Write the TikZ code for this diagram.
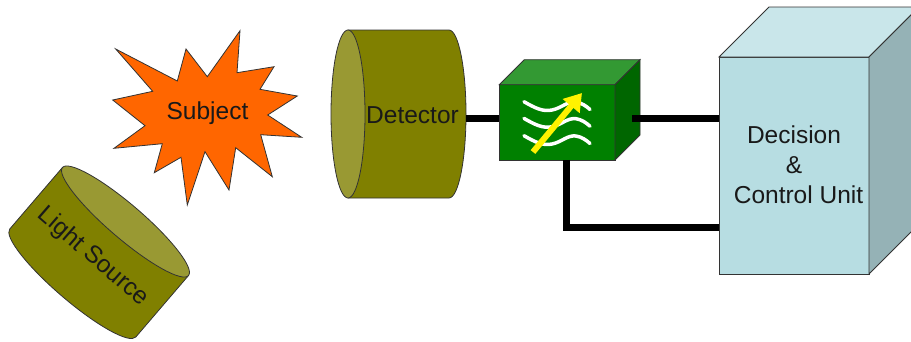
\documentclass[tikz,border=0pt]{standalone}
\usepackage{fontspec}
\setmainfont{Liberation Sans}
\usetikzlibrary{calc, positioning, arrows.meta}

\definecolor{tubebody}{HTML}{808000}
\definecolor{tubecap}{HTML}{999933}
\definecolor{burst}{HTML}{FF6600}
\definecolor{filterfront}{HTML}{008000}
\definecolor{filtertop}{HTML}{339933}
\definecolor{filterside}{HTML}{006600}
\definecolor{unitfront}{HTML}{B7DDE2}
\definecolor{unittop}{HTML}{C9E6EA}
\definecolor{unitside}{HTML}{95B2B6}

\tikzset{
	outline/.style={draw=black!80, line width=0.8pt},
	label text/.style={font=\fontsize{24.5}{30}\selectfont, text=black!90, inner sep=0pt},
	link/.style={line width=7pt, draw=black},
	wave/.style={draw=white, line width=3.5pt, line cap=round},
}

\begin{document}
\begin{tikzpicture}[x=1pt, y=-1pt]
	\clip (0,0) rectangle (911,341);

	% free ends of the links
	\coordinate (detector out) at (466,118);
	\coordinate (filter out) at (632,118);
	\coordinate (filter down) at (566,150);
	\coordinate (bend) at (566,227);

	% light source
	\begin{scope}[shift={(125.5,221.5)}, rotate=229.4]
		\path[outline, fill=tubebody] (0,-83) -- (81,-83)
			.. controls (90.4,-83) and (98,-46) .. (98,0)
			.. controls (98,46) and (90.4,83) .. (81,83)
			-- (0,83) -- cycle;
		\path[outline, fill=tubecap] (0,0) ellipse [x radius=17, y radius=83];
	\end{scope}
	\node[label text, rotate=-41] (source) at (93,257) {Light Source};

	% subject
	\path[outline, fill=burst] (115.7,49) -- (177.3,81) -- (186,49) -- (207.3,76.7)
		-- (240,30.7) -- (237,72.7) -- (274,66.7) -- (260,89.3) -- (297.3,96)
		-- (267.7,115) -- (301.7,137.3) -- (260.7,134.7) -- (272.3,176.7)
		-- (235.7,147.7) -- (229,190) -- (205,151.7) -- (187.3,205) -- (181,157.3)
		-- (154.3,172.7) -- (162.3,143.7) -- (114,148.3) -- (145,125.7)
		-- (112.7,100) -- (152.7,91.3) -- cycle;
	\node[label text] (subject) at (207.5,113) {Subject};

	% detector
	\begin{scope}[shift={(348,114)}]
		\path[outline, fill=tubebody] (0,-84) -- (101,-84)
			.. controls (110.4,-84) and (118,-46) .. (118,0)
			.. controls (118,46) and (110.4,84) .. (101,84)
			-- (0,84) -- cycle;
		\path[outline, fill=tubecap] (0,0) ellipse [x radius=17, y radius=84];
	\end{scope}
	\node[label text] (detector) at (412.5,115) {Detector};

	% filter
	\node[outline, fill=filterfront, minimum width=115.7pt, minimum height=75.3pt, inner sep=0pt, outer sep=0pt] (filter) at (557.2,122.3) {};
	\path[outline, fill=filtertop] (filter.north west) -- ++(25,-25) -- ++(115.7,0) -- ($(filter.north east)$) -- cycle;
	\path[outline, fill=filterside] (filter.north east) -- ++(25,-25) -- ++(0,75.3) -- (filter.south east) -- cycle;
	\foreach \y in {0,16.7,34}{
		\draw[wave] (524,101.7+\y) .. controls (535,108+\y) and (543,112+\y) .. (552,110+\y)
			.. controls (562,108+\y) and (567,101+\y) .. (576,102+\y)
			.. controls (582,103+\y) and (586,106+\y) .. (590,109.5+\y);
	}
	\draw[draw=yellow, line width=6pt, -{Triangle[length=17pt, width=21pt]}] (533,152) -- (582,93);

	% decision unit
	\node[outline, fill=unitfront, label text, align=center, minimum width=150pt, minimum height=217pt, outer sep=0pt] (unit) at (794,165.5)
		{\raisebox{2.5pt}{Decision}\\\raisebox{2.5pt}{\&}\\\hspace*{9pt}\raisebox{2.5pt}{Control Unit}};
	\path[outline, fill=unittop] (unit.north west) -- ++(50,-50) -- ++(150,0) -- (unit.north east) -- cycle;
	\path[outline, fill=unitside] (unit.north east) -- ++(50,-50) -- ++(0,217) -- (unit.south east) -- cycle;

	% links
	\draw[link] (detector out) -- (detector out -| filter.west);
	\draw[link] (filter out) -- (filter out -| unit.west);
	\draw[link] (filter.south -| filter down) -- (bend) -- (bend -| unit.west);

\end{tikzpicture}
\end{document}
